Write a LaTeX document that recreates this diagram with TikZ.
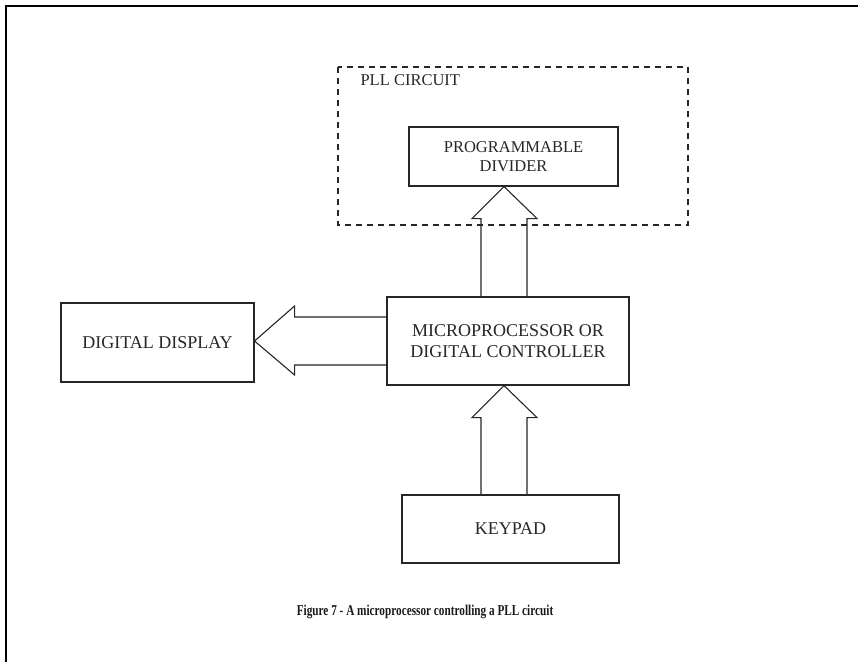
\documentclass[tikz,border=0pt]{standalone}
\usepackage{fontspec}
\setmainfont{Liberation Serif}
\newfontfamily\capfont[FakeStretch=0.75]{Liberation Serif}
\usetikzlibrary{calc,positioning}

\begin{document}
\begin{tikzpicture}[x=1pt,y=-1pt,
  blk/.style={draw=black!85,line width=1.1pt,inner sep=0pt,align=center,
    text=black!85,font=\fontsize{18}{20.5}\selectfont},
  hollow/.style={draw=black!85,line width=1.1pt,line join=miter},
  dashbox/.style={draw=black!85,line width=1.1pt,dash pattern=on 6pt off 5pt}]
  \newcommand{\upblock}[2]{% base, tip
    \draw[hollow] ($(#1)+(-23,0)$) -- ($(#2)+(-23,32)$) -- ($(#2)+(-32,32)$) -- (#2)
      -- ($(#2)+(33,32)$) -- ($(#2)+(23,32)$) -- ($(#1)+(23,0)$);}
  \useasboundingbox (0,0) rectangle (858,662);
  % frame
  \draw[line width=1.8pt] (6,662) -- (6,6) -- (858,6);
  % PLL circuit
  \draw[dashbox] (338,67) rectangle (688,225);
  \node[anchor=west,text=black!85,font=\fontsize{16.5}{19}\selectfont] (pll) at (357,80) {PLL CIRCUIT};
  \node[blk,minimum width=209pt,minimum height=59pt,font=\fontsize{16.5}{19}\selectfont] (div) at (513.5,156.5) {PROGRAMMABLE\\DIVIDER};
  % blocks
  \node[blk,minimum width=242pt,minimum height=88pt] (micro) at (508,341) {MICROPROCESSOR OR\\DIGITAL CONTROLLER};
  \node[blk,minimum width=193pt,minimum height=79pt] (disp) at (157.5,342.5) {DIGITAL DISPLAY};
  \node[blk,minimum width=217pt,minimum height=68pt] (key) at (510.5,529) {KEYPAD};
  % arrows
  \coordinate (ax) at (504,0);
  \upblock{micro.north -| ax}{div.south -| ax}
  \upblock{key.north -| ax}{micro.south -| ax}
  \coordinate (lt) at (disp.east |- micro.west);
  \draw[hollow] ($(micro.west)+(0,-24)$) -- ($(lt)+(40,-24)$) -- ($(lt)+(40,-35)$) -- (lt)
    -- ($(lt)+(40,34)$) -- ($(lt)+(40,24)$) -- ($(micro.west)+(0,24)$);
  \node[text=black!90,font=\capfont\fontsize{15}{17}\selectfont\bfseries] (cap) at (425,612) {Figure 7 - A microprocessor controlling a PLL circuit};
\end{tikzpicture}
\end{document}
